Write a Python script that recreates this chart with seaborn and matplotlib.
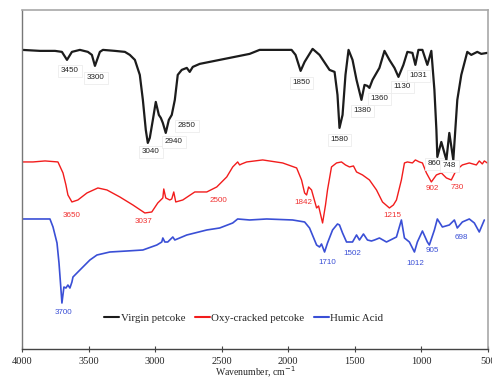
import numpy as np
import pandas as pd
import matplotlib
matplotlib.use("Agg")
import matplotlib.pyplot as plt
import seaborn as sns

# ---------------- data ----------------
virgin_wn = [4000, 3865, 3752, 3700, 3662, 3625, 3565, 3505, 3475, 3452, 3415, 3392, 3302, 3227,
             3190, 3152, 3115, 3092, 3070, 3055, 3040, 3017, 2995, 2972, 2957, 2942, 2920, 2897,
             2875, 2852, 2830, 2800, 2762, 2740, 2717, 2665, 2515, 2365, 2290, 2215, 1975, 1945,
             1907, 1877, 1817, 1765, 1690, 1652, 1630, 1615, 1592, 1570, 1547, 1517, 1487, 1450,
             1427, 1405, 1390, 1367, 1315, 1277, 1240, 1202, 1172, 1135, 1105, 1067, 1045, 1022,
             992, 955, 925, 902, 887, 880, 850, 812, 790, 760, 730, 700, 655, 625, 580, 550, 505]
virgin_t = [299, 298, 298, 297, 289, 297, 299, 297, 294, 283, 297, 299, 298, 297,
            294, 289, 274, 249, 219, 206, 211, 229, 247, 234, 231, 226, 216, 229,
            234, 249, 274, 279, 281, 277, 282, 285, 289, 293, 295, 299, 299, 294,
            278, 287, 300, 294, 279, 277, 254, 221, 234, 274, 299, 289, 269, 249,
            264, 263, 261, 269, 281, 298, 289, 281, 272, 284, 297, 296, 284, 299,
            299, 284, 298, 259, 219, 192, 207, 189, 216, 189, 249, 274, 297, 294, 297, 295, 296]

oxy_wn = [4000, 3917, 3827, 3730, 3692, 3670, 3655, 3625, 3580, 3512, 3430, 3362, 3265, 3167,
          3077, 3025, 2980, 2942, 2935, 2920, 2890, 2875, 2860, 2845, 2792, 2702, 2612, 2537,
          2462, 2417, 2380, 2365, 2350, 2312, 2192, 2042, 1937, 1900, 1877, 1862, 1847, 1825,
          1787, 1772, 1742, 1720, 1705, 1675, 1637, 1600, 1570, 1540, 1510, 1487, 1442, 1390,
          1337, 1292, 1240, 1210, 1187, 1150, 1127, 1105, 1067, 1045, 1015, 992, 962, 925,
          887, 850, 812, 775, 737, 692, 640, 587, 565, 542, 527, 505]
oxy_t = [187, 187, 188, 187, 176, 164, 154, 147, 149, 156, 161, 159, 152, 144,
         136, 137, 146, 151, 160, 151, 149, 150, 157, 147, 149, 157, 157, 162,
         172, 182, 187, 184, 185, 187, 189, 186, 181, 169, 156, 154, 162, 159,
         141, 143, 126, 144, 159, 182, 186, 187, 184, 182, 183, 177, 174, 169,
         159, 147, 141, 144, 149, 169, 186, 187, 186, 189, 187, 186, 176, 167,
         174, 176, 171, 169, 179, 184, 186, 184, 188, 185, 188, 186]

humic_wn = [4000, 3902, 3790, 3767, 3737, 3722, 3707, 3700, 3685, 3670, 3655, 3640, 3625, 3617,
            3565, 3490, 3437, 3340, 3212, 3092, 2987, 2950, 2942, 2927, 2905, 2867, 2852, 2762,
            2612, 2515, 2417, 2380, 2290, 2162, 1967, 1877, 1840, 1787, 1765, 1750, 1727, 1705,
            1667, 1630, 1615, 1592, 1562, 1517, 1487, 1465, 1435, 1405, 1375, 1352, 1315, 1262,
            1187, 1150, 1127, 1090, 1052, 1030, 992, 955, 940, 902, 880, 842, 790, 752, 730,
            692, 640, 602, 565, 527]
humic_t = [130, 130, 130, 122, 106, 86, 59, 46, 62, 61, 64, 61, 67, 72,
           79, 89, 94, 97, 98, 99, 104, 107, 111, 107, 107, 112, 109, 114,
           119, 121, 126, 130, 129, 130, 129, 127, 121, 104, 102, 105, 97, 106,
           119, 125, 124, 116, 107, 107, 114, 109, 115, 109, 108, 109, 111, 107,
           112, 129, 111, 107, 97, 107, 118, 107, 104, 119, 130, 122, 124, 129, 121,
           127, 130, 126, 117, 129]

series_names = ["Virgin petcoke", "Oxy-cracked petcoke", "Humic Acid"]
x_ticks = [4000, 3500, 3000, 2500, 2000, 1500, 1000, 500]

virgin_labels = ["3450", "3300", "3040", "2940", "2850", "1850", "1580", "1380", "1360",
                 "1130", "1031", "860", "748"]
oxy_labels = ["3650", "3037", "2500", "1842", "1215", "902", "730"]
humic_labels = ["3700", "1710", "1502", "1012", "905", "698"]

# label anchor positions (data coords)
virgin_label_pos = [(3640, 278), (3445, 271), (3032, 197), (2860, 207), (2762, 223), (1900, 266),
                    (1615, 209), (1442, 238), (1315, 250), (1142, 262), (1022, 273), (902, 185),
                    (790, 183)]
oxy_label_pos = [(3625, 133), (3085, 127), (2522, 148), (1885, 146), (1217, 133), (917, 160),
                 (730, 161)]
humic_label_pos = [(3685, 37), (1705, 87), (1517, 96), (1045, 86), (917, 98), (700, 111)]

# ---------------- frame ----------------
df = pd.concat([
    pd.DataFrame({"wn": virgin_wn, "T": virgin_t, "sample": series_names[0]}),
    pd.DataFrame({"wn": oxy_wn, "T": oxy_t, "sample": series_names[1]}),
    pd.DataFrame({"wn": humic_wn, "T": humic_t, "sample": series_names[2]}),
], ignore_index=True)

sns.set_theme(style="white")
plt.rcParams["font.family"] = ["Liberation Serif", "DejaVu Serif"]

fig = plt.figure(figsize=(4.92, 3.79), dpi=100)
ax = fig.add_axes([0.0447, 0.079, 0.947, 0.895])

colors = {"Virgin petcoke": "#1c1c1c", "Oxy-cracked petcoke": "#f21c1c", "Humic Acid": "#3a4fd6"}
sns.lineplot(data=df, x="wn", y="T", hue="sample", palette=colors, estimator=None,
             sort=False, ax=ax, legend=True)
widths = [1.6, 1.0, 1.2]
for line, lw in zip(ax.get_lines()[:3], widths):
    line.set_linewidth(lw)

ax.set_xlim(4000, 500)
ax.set_ylim(0, 339)
ax.set_xticks(x_ticks)
ax.set_xticklabels([str(t) for t in x_ticks], fontsize=7.5)
ax.set_yticks([])
ax.set_ylabel("")
ax.set_xlabel("Wavenumber, cm$^{-1}$", fontsize=7.0, labelpad=-1.0)
ax.tick_params(axis="x", direction="inout", length=4, width=0.8, color="#444444", pad=3.5,
               bottom=True)

for side in ["top", "right"]:
    ax.spines[side].set_color("#a8a8a8")
    ax.spines[side].set_linewidth(1.2)
ax.spines["left"].set_color("#777777")
ax.spines["left"].set_linewidth(1.0)
ax.spines["bottom"].set_color("#444444")
ax.spines["bottom"].set_linewidth(1.0)

anno_font = ["Liberation Sans", "DejaVu Sans"]
for lab, (x, y) in zip(virgin_labels, virgin_label_pos):
    ax.text(x, y, lab, ha="center", va="center", fontsize=5.8, color="#222222", family=anno_font,
            bbox=dict(boxstyle="square,pad=0.35", fc="white", ec="#ececec", lw=0.6))
for lab, (x, y) in zip(oxy_labels, oxy_label_pos):
    ax.text(x, y, lab, ha="center", va="center", fontsize=5.8, color="#f03030", family=anno_font)
for lab, (x, y) in zip(humic_labels, humic_label_pos):
    ax.text(x, y, lab, ha="center", va="center", fontsize=5.8, color="#3a4fd6", family=anno_font)

handles, labels = ax.get_legend_handles_labels()
leg = ax.legend(handles, labels, loc="center", bbox_to_anchor=(0.476, 0.091), ncol=3,
                frameon=False, fontsize=7.8, handlelength=1.4, handletextpad=0.1,
                columnspacing=0.9)
for h in leg.get_lines():
    h.set_linewidth(1.5)

fig.savefig("out.png", dpi=100)
